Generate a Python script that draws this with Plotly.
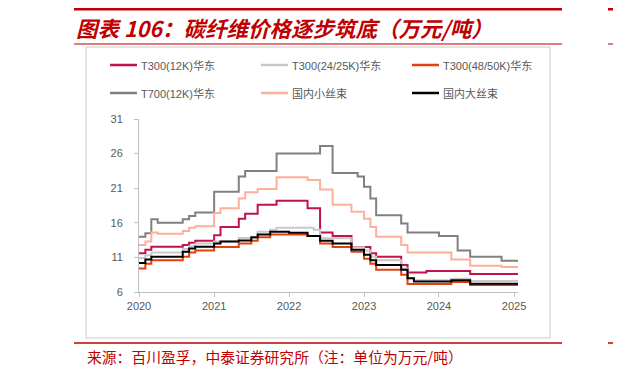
import pandas as pd
import plotly.graph_objects as go

# ---------------- data (monthly, 万元/吨) ----------------
months = pd.date_range("2020-01-01", periods=62, freq="MS")

t300_12k = [11.6, 12.1, 12.55, 12.55, 12.55, 12.55, 12.55, 12.8, 13.1, 13.4, 13.4, 13.4,
            14.2, 15.4, 15.4, 15.4, 16.6, 17.3, 17.3, 18.6, 18.6, 18.6, 19.2, 19.2,
            19.2, 19.2, 19.2, 18.1, 18.1, 14.6, 14.6, 14.1, 14.1, 14.1, 12.5, 12.5,
            12.5, 11.6, 11.1, 11.1, 11.1, 11.1, 9.9, 8.8, 8.8, 8.8, 9.05, 9.05,
            9.05, 9.05, 9.05, 9.05, 9.05, 8.6, 8.6, 8.6, 8.6, 8.6, 8.6, 8.6, 8.6, 8.6]
t300_25k = [10.9, 11.3, 11.7, 11.7, 11.7, 11.7, 11.7, 12.2, 12.6, 13.0, 13.0, 13.0,
            13.3, 13.3, 13.3, 13.3, 13.8, 13.8, 13.8, 14.7, 14.7, 15.0, 15.3, 15.3,
            15.3, 15.3, 15.3, 15.3, 15.0, 13.75, 13.75, 13.75, 13.75, 13.75, 12.45, 12.45,
            12.0, 11.1, 10.6, 10.6, 10.6, 10.6, 9.4, 8.0, 7.7, 7.7, 7.7, 7.7,
            7.7, 7.7, 7.9, 7.9, 7.9, 7.6, 7.6, 7.6, 7.6, 7.6, 7.6, 7.6, 7.6, 7.6]
t300_50k = [9.4, 10.1, 10.6, 10.6, 10.6, 10.6, 10.6, 11.1, 11.7, 12.0, 12.0, 12.0,
            12.5, 12.5, 12.5, 12.5, 13.0, 13.0, 13.4, 13.9, 13.9, 14.3, 14.3, 14.3,
            14.3, 14.3, 14.3, 14.1, 14.1, 13.0, 13.0, 12.5, 12.5, 12.5, 11.8, 11.8,
            10.8, 10.1, 9.2, 9.2, 9.2, 9.2, 8.5, 7.15, 7.15, 7.15, 7.15, 7.15,
            7.15, 7.15, 7.45, 7.45, 7.45, 7.0, 7.0, 7.0, 7.0, 7.0, 7.0, 7.0, 7.0, 7.0]
t700_12k = [14.0, 14.5, 16.5, 16.0, 16.0, 16.0, 16.0, 16.5, 17.0, 17.5, 17.5, 17.5,
            20.5, 20.5, 20.5, 20.5, 22.7, 23.5, 23.5, 23.5, 23.5, 23.5, 26.0, 26.0,
            26.0, 26.0, 26.0, 26.0, 26.0, 27.1, 27.1, 23.2, 23.2, 23.2, 23.2, 22.7,
            21.2, 19.5, 17.1, 17.1, 17.1, 17.1, 15.9, 14.6, 14.6, 14.6, 14.6, 14.6,
            14.1, 14.1, 14.1, 12.0, 12.0, 11.1, 11.1, 11.1, 11.1, 11.1, 10.5, 10.5, 10.5, 10.5]
small_tow = [12.8, 13.3, 14.6, 14.4, 14.4, 14.4, 14.4, 14.8, 15.3, 15.5, 15.5, 15.5,
             17.4, 18.1, 18.1, 18.1, 19.5, 20.4, 20.4, 20.9, 20.9, 20.9, 22.6, 22.6,
             22.6, 22.6, 22.6, 22.2, 22.2, 20.8, 20.8, 18.6, 18.6, 18.6, 17.6, 17.6,
             16.6, 15.4, 14.0, 14.0, 14.0, 14.0, 12.8, 11.7, 11.7, 11.7, 11.7, 11.7,
             11.7, 11.7, 10.7, 10.7, 10.7, 9.8, 9.8, 9.8, 9.8, 9.8, 9.6, 9.6, 9.6, 9.6]
large_tow = [10.2, 10.7, 11.1, 11.1, 11.1, 11.1, 11.1, 11.8, 12.3, 12.55, 12.55, 12.55,
             13.0, 13.3, 13.3, 13.3, 13.45, 13.45, 13.9, 14.3, 14.3, 14.7, 14.7, 14.7,
             14.55, 14.55, 14.55, 14.1, 14.1, 13.4, 13.4, 13.0, 13.0, 13.0, 12.1, 12.1,
             11.4, 10.6, 9.9, 9.9, 9.9, 9.9, 9.2, 8.0, 7.5, 7.5, 7.5, 7.5,
             7.5, 7.5, 7.7, 7.7, 7.7, 7.2, 7.2, 7.2, 7.2, 7.2, 7.2, 7.2, 7.2, 7.2]

series_names = ["T300(12K)华东", "T300(24/25K)华东", "T300(48/50K)华东",
                "T700(12K)华东", "国内小丝束", "国内大丝束"]
series_values = [t300_12k, t300_25k, t300_50k, t700_12k, small_tow, large_tow]
series_colors = ["#C0134A", "#C9C9C9", "#E2400F", "#808080", "#FFAE9C", "#000000"]

y_ticks = [6, 11, 16, 21, 26, 31]
x_ticks = ["2020-01-01", "2021-01-01", "2022-01-01", "2023-01-01", "2024-01-01", "2025-01-01"]
x_tick_labels = ["2020", "2021", "2022", "2023", "2024", "2025"]

title_text = "图表 106：碳纤维价格逐步筑底（万元/吨）"
source_text = "来源：百川盈孚，中泰证券研究所（注：单位为万元/吨）"

# ---------------- layout geometry ----------------
# the page body has an 8px margin, so the figure is drawn 8px smaller and
# all window-pixel positions are shifted by that offset
OFF = 8
W, H = 621 - OFF, 372 - OFF
PL, PR, PT, PB = 139 - OFF, 518 - OFF, 119 - OFF, 292 - OFF   # plot area edges


def px(x):
    return (x - OFF - PL) / (PR - PL)


def py(y):
    return (PB - (y - OFF)) / (PB - PT)


fig = go.Figure()
for name, vals, col in zip(series_names, series_values, series_colors):
    fig.add_trace(go.Scatter(x=months, y=vals, name=name, mode="lines",
                             line=dict(color=col, width=2, shape="hv"),
                             showlegend=False, hoverinfo="x+y+name"))

tick_font = dict(family="Liberation Sans, Arial, sans-serif", size=11, color="#595959")

fig.update_layout(
    width=W, height=H,
    margin=dict(l=PL, r=W - PR, t=PT, b=H - PB, pad=0),
    paper_bgcolor="white", plot_bgcolor="white",
    xaxis=dict(type="date", range=["2020-01-01", "2025-01-20"],
               tickvals=x_ticks, ticktext=x_tick_labels,
               showgrid=False, zeroline=False,
               showline=True, linecolor="#BFBFBF", linewidth=1,
               ticks="outside", ticklen=4, tickcolor="#BFBFBF",
               tickfont=tick_font),
    yaxis=dict(range=[6, 31], tickvals=y_ticks,
               showgrid=False, zeroline=False,
               showline=True, linecolor="#BFBFBF", linewidth=1,
               ticks="outside", ticklen=4, tickcolor="#BFBFBF",
               ticklabelstandoff=9,
               tickfont=tick_font),
    showlegend=False,
)

shapes = []
annotations = []

# outer chart frame
shapes.append(dict(type="rect", xref="paper", yref="paper",
                   x0=px(86), x1=px(550), y0=py(338), y1=py(47),
                   line=dict(color="#C8C8C8", width=1), fillcolor="rgba(0,0,0,0)", layer="below"))

# red header / footer rules
red = "#C00000"
shapes.append(dict(type="line", xref="paper", yref="paper", x0=px(74), x1=px(562),
                   y0=py(9), y1=py(9), line=dict(color=red, width=3)))
shapes.append(dict(type="line", xref="paper", yref="paper", x0=px(74), x1=px(562),
                   y0=py(44), y1=py(44), line=dict(color="#D85050", width=1.5)))
shapes.append(dict(type="line", xref="paper", yref="paper", x0=px(608), x1=px(625),
                   y0=py(9), y1=py(9), line=dict(color=red, width=3)))
shapes.append(dict(type="line", xref="paper", yref="paper", x0=px(608), x1=px(625),
                   y0=py(44), y1=py(44), line=dict(color="#D85050", width=1.5)))
shapes.append(dict(type="line", xref="paper", yref="paper", x0=px(74), x1=px(562),
                   y0=py(343), y1=py(343), line=dict(color=red, width=1.5)))
shapes.append(dict(type="line", xref="paper", yref="paper", x0=px(608), x1=px(625),
                   y0=py(343), y1=py(343), line=dict(color=red, width=1.5)))

# title
annotations.append(dict(text="<b><i>" + title_text + "</i></b>", xref="paper", yref="paper",
                        x=px(74), y=py(27), xanchor="left", yanchor="middle", showarrow=False,
                        font=dict(family="Noto Sans CJK SC, sans-serif", size=21.5, color=red)))
# source
annotations.append(dict(text=source_text, xref="paper", yref="paper",
                        x=px(85), y=py(356), xanchor="left", yanchor="middle", showarrow=False,
                        font=dict(family="Noto Sans CJK SC, sans-serif", size=14.8, color=red)))

# manual legend (3 columns x 2 rows)
leg_cols = [110, 261, 412]
leg_rows = [65, 93]
for i, (name, col) in enumerate(zip(series_names, series_colors)):
    cx = leg_cols[i % 3]
    ry = leg_rows[i // 3]
    shapes.append(dict(type="line", xref="paper", yref="paper",
                       x0=px(cx), x1=px(cx + 27), y0=py(ry), y1=py(ry),
                       line=dict(color=col, width=2.5)))
    annotations.append(dict(text=name, xref="paper", yref="paper",
                            x=px(cx + 29), y=py(ry), xanchor="left", yanchor="middle",
                            showarrow=False,
                            font=dict(family="Liberation Sans, Noto Sans CJK SC, sans-serif",
                                      size=11, color="#595959")))

fig.update_layout(shapes=shapes, annotations=annotations)
fig.write_html("out.html")
